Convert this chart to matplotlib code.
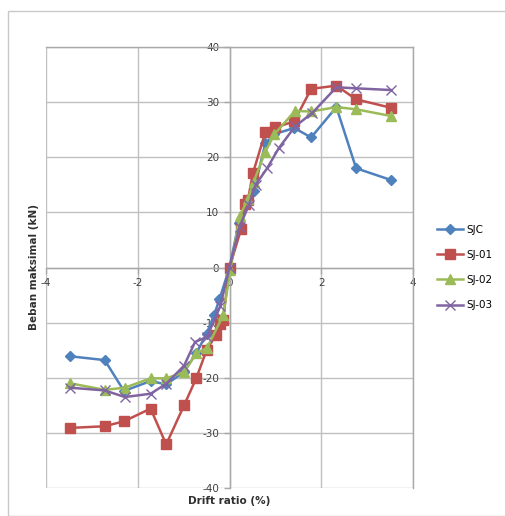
import matplotlib.pyplot as plt
from matplotlib.patches import Rectangle

plt.rcParams['axes.unicode_minus'] = False

# data
sjc_x = [-3.48, -2.72, -2.3, -1.72, -1.38, -1.0, -0.72, -0.5, -0.34, -0.22, 0.0,
         0.2, 0.38, 0.53, 0.78, 0.98, 1.41, 1.78, 2.33, 2.76, 3.51]
sjc_y = [-16.1, -16.8, -22.4, -20.6, -21.2, -19.0, -15.5, -12.0, -8.7, -5.8, 0.0,
         8.0, 11.5, 13.8, 22.5, 24.2, 25.3, 23.6, 29.1, 18.0, 15.9]

sj01_x = [-3.48, -2.72, -2.3, -1.72, -1.38, -0.99, -0.72, -0.5, -0.3, -0.2, -0.14, 0.0,
          0.25, 0.33, 0.4, 0.51, 0.78, 1.0, 1.41, 1.78, 2.33, 2.76, 3.51]
sj01_y = [-29.1, -28.8, -27.9, -25.6, -32.1, -25.0, -20.0, -15.0, -12.3, -10.2, -9.5, 0.0,
          6.9, 11.6, 12.2, 17.1, 24.5, 25.4, 26.5, 32.4, 33.0, 30.5, 29.0]

sj02_x = [-3.48, -2.72, -2.28, -1.72, -1.38, -0.99, -0.72, -0.49, -0.14, 0.02,
          0.22, 0.4, 0.53, 0.78, 0.98, 1.43, 1.78, 2.33, 2.76, 3.51]
sj02_y = [-21.0, -22.2, -21.8, -20.1, -20.1, -19.0, -15.5, -14.6, -8.7, -0.4,
          9.3, 12.4, 15.6, 21.0, 24.2, 28.4, 28.3, 29.1, 28.7, 27.5]

sj03_x = [-3.48, -2.72, -2.28, -1.72, -1.38, -0.99, -0.75, -0.49, -0.2, 0.0,
          0.22, 0.42, 0.57, 0.82, 1.07, 1.43, 1.8, 2.33, 2.76, 3.51]
sj03_y = [-21.8, -22.3, -23.5, -22.9, -21.1, -17.8, -13.5, -12.6, -7.0, 0.0,
          7.4, 11.3, 15.0, 18.0, 21.6, 25.6, 28.0, 32.7, 32.5, 32.2]

x_ticks = [-4, -2, 0, 2, 4]
y_ticks = [-40, -30, -20, -10, 0, 10, 20, 30, 40]

fig = plt.figure(figsize=(5.06, 5.16), dpi=100)
# frame around the chart area
fig.patches.append(Rectangle((8 / 506, 0), 1, 1 - 11 / 516, transform=fig.transFigure,
                             fill=False, edgecolor='#c8c8c8', lw=1.0))

ax = fig.add_axes([46 / 506, 1 - 488 / 516, (413 - 46) / 506, (488 - 47) / 516])

ax.plot(sjc_x, sjc_y, color='#4F81BD', marker='D', ms=5, lw=1.8, label='SJC', zorder=3)
ax.plot(sj01_x, sj01_y, color='#C0504D', marker='s', ms=7.5, lw=1.8, label='SJ-01', zorder=3)
ax.plot(sj02_x, sj02_y, color='#9BBB59', marker='^', ms=7, lw=1.8, label='SJ-02', zorder=3)
ax.plot(sj03_x, sj03_y, color='#8064A2', marker='x', ms=7, mew=1.0, lw=1.8, label='SJ-03', zorder=4)

ax.set_xlim(-4, 4)
ax.set_ylim(-40, 40)
ax.set_xticks(x_ticks)
ax.set_yticks(y_ticks)
ax.grid(True, color='#c0c0c0', lw=1.0)
ax.set_axisbelow(True)

ax.spines['left'].set_position(('data', 0))
ax.spines['bottom'].set_position(('data', 0))
for s in ax.spines.values():
    s.set_color('#a8a8a8')
    s.set_linewidth(1.0)
ax.tick_params(colors='#a8a8a8', labelcolor='#404040', labelsize=7.5, length=4, width=1.0)

ax.set_xlabel('Drift ratio (%)', fontsize=7.5, color='#303030', fontweight='bold', labelpad=0)
ax.xaxis.set_label_coords(0.5, -0.018)
ax.set_ylabel('Beban maksimal (kN)', fontsize=7.5, color='#303030', fontweight='bold')
ax.yaxis.set_label_coords(-0.02, 0.5)

ax.legend(loc='center left', bbox_to_anchor=(1.04, 0.50), frameon=False, fontsize=7.5,
          handlelength=2.5, labelspacing=1.45, handletextpad=0.3)

plt.savefig('out.png', dpi=100)
